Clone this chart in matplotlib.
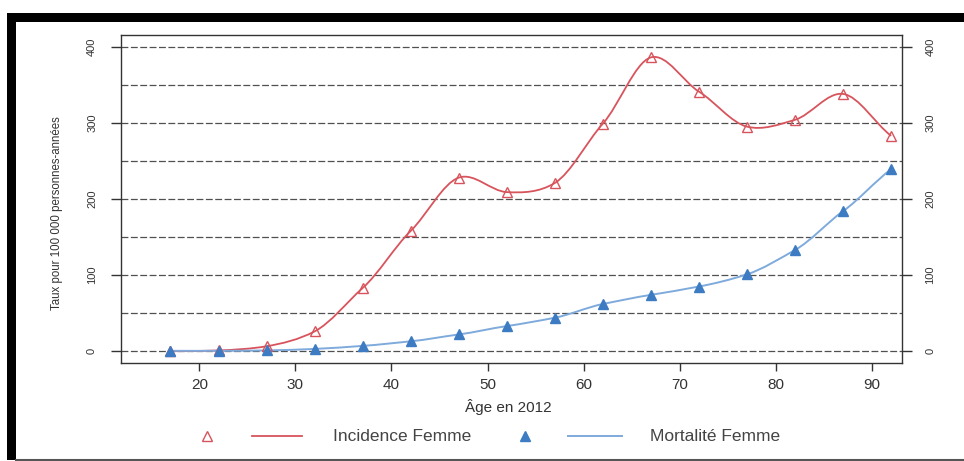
import matplotlib
matplotlib.use("Agg")
import matplotlib.pyplot as plt
from matplotlib.lines import Line2D
from matplotlib.patches import PathPatch, Rectangle
from matplotlib.path import Path

plt.rcParams["font.family"] = ["Liberation Sans", "DejaVu Sans"]

ages = [17, 22, 27, 32, 37, 42, 47, 52, 57, 62, 67, 72, 77, 82, 87, 92]
incidence = [0, 1, 6.5, 26, 83, 158, 228, 209, 221, 299, 386, 341, 295, 304, 338, 283]
mortalite = [0.5, 0.5, 1, 3, 7, 13, 22, 33, 44, 62, 74, 85, 101, 133, 184, 239]

x_ticks = [20, 30, 40, 50, 60, 70, 80, 90]
y_ticks = [0, 100, 200, 300, 400]
grid_levels = [0, 50, 100, 150, 200, 250, 300, 350, 400]

RED = "#d8545d"
BLUE_LINE = "#7eaadc"
BLUE_MARK = "#3d7cc3"
W, H = 964, 461


def smooth_path(xs, ys, tension=0.85):
    # cubic Hermite curve through the points, drawn as bezier segments
    n = len(xs)
    slopes = []
    for i in range(n):
        a, b = max(i - 1, 0), min(i + 1, n - 1)
        slopes.append(tension * (ys[b] - ys[a]) / (xs[b] - xs[a]))
    verts = [(xs[0], ys[0])]
    codes = [Path.MOVETO]
    for i in range(n - 1):
        h = (xs[i + 1] - xs[i]) / 3
        verts += [(xs[i] + h, ys[i] + slopes[i] * h),
                  (xs[i + 1] - h, ys[i + 1] - slopes[i + 1] * h),
                  (xs[i + 1], ys[i + 1])]
        codes += [Path.CURVE4] * 3
    return Path(verts, codes)


fig = plt.figure(figsize=(W / 100, H / 100), dpi=100)
ax = fig.add_axes([121 / W, 1 - 362.7 / H, (901.7 - 121) / W, (362.7 - 35) / H])

for v in grid_levels:
    ax.axhline(v, color="#505050", lw=0.9, ls=(0, (5.5, 2)), zorder=1)

ax.add_patch(PathPatch(smooth_path(ages, incidence), fill=False, ec=RED, lw=1.3, zorder=3))
ax.add_patch(PathPatch(smooth_path(ages, mortalite), fill=False, ec=BLUE_LINE, lw=1.4, zorder=3))
ax.plot(ages, incidence, ls="none", marker="^", ms=6.5, mfc="none", mec=RED, mew=1.0, zorder=4)
ax.plot(ages, mortalite, ls="none", marker="^", ms=6.5, mfc=BLUE_MARK, mec=BLUE_MARK, zorder=4)

ax.set_xlim(11.85, 93.1)
ax.set_ylim(-15.1, 415.4)
ax.set_xticks(x_ticks)
ax.set_yticks(y_ticks)
ax.tick_params(axis="x", length=6, width=1, color="#333333", pad=5, labelsize=11, labelcolor="#333333")
ax.tick_params(axis="y", length=7.2, width=1, color="#333333", pad=10, labelsize=8,
               labelcolor="#333333", right=True, labelright=True, labelrotation=90)
for lab in ax.get_yticklabels():
    lab.set_va("center")
for sp in ax.spines.values():
    sp.set_color("#333333")
    sp.set_linewidth(1.0)

fig.text(57 / W, 1 - 213 / H, "Taux pour 100 000 personnes-années", rotation=90,
         ha="center", va="center", fontsize=8.3, color="#333333")
fig.text(508 / W, 1 - 406.7 / H, "Âge en 2012", ha="center", va="center",
         fontsize=11, color="#333333")

# legend row
ly = 1 - 436 / H
fig.add_artist(Line2D([207 / W], [ly], transform=fig.transFigure, marker="^", ms=6.5,
                      mfc="none", mec=RED, mew=1.0, ls="none"))
fig.add_artist(Line2D([251.7 / W, 301.7 / W], [ly, ly], transform=fig.transFigure, color=RED, lw=1.3))
fig.text(333 / W, ly, "Incidence Femme", ha="left", va="center", fontsize=12.5, color="#444444")
fig.add_artist(Line2D([525 / W], [ly], transform=fig.transFigure, marker="^", ms=6.5,
                      mfc=BLUE_MARK, mec=BLUE_MARK, ls="none"))
fig.add_artist(Line2D([568 / W, 621.7 / W], [ly, ly], transform=fig.transFigure, color=BLUE_LINE, lw=1.4))
fig.text(650 / W, ly, "Mortalité Femme", ha="left", va="center", fontsize=12.5, color="#444444")

# black frame around the screenshot
fig.add_artist(Rectangle((7 / W, 1 - 22 / H), (W - 7) / W, 9 / H, transform=fig.transFigure,
                         color="black", lw=0))
fig.add_artist(Rectangle((7 / W, 1 - 460 / H), 9 / W, 447 / H, transform=fig.transFigure,
                         color="black", lw=0))
fig.add_artist(Line2D([16 / W, 1], [1 - 460 / H] * 2, transform=fig.transFigure,
                      color="#555555", lw=1.5))

fig.savefig("out.png", dpi=100)
